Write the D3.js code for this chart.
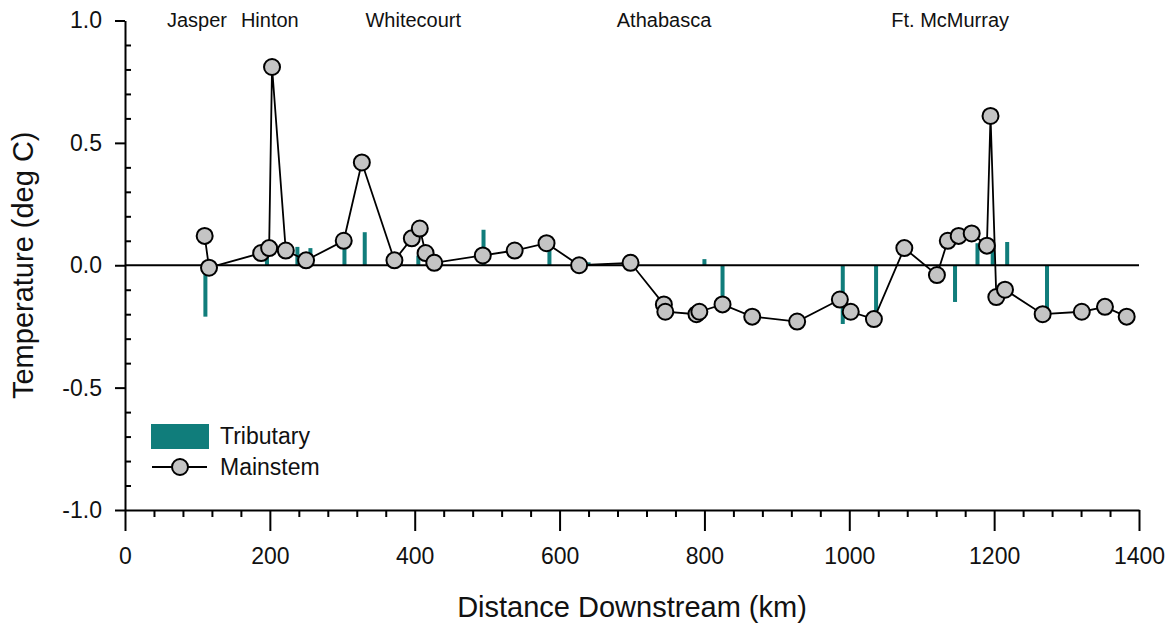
<!DOCTYPE html>
<html>
<head>
<meta charset="utf-8">
<script src="https://cdn.jsdelivr.net/npm/d3@7"></script>
<style>
  html, body { margin: 0; padding: 0; background: #fff; }
  svg { display: block; font-family: "Liberation Sans", Arial, sans-serif; }
</style>
</head>
<body>
<svg id="chart" width="1172" height="627"></svg>
<script>
// Mainstem temperature change along the river (km downstream, deg C)
const mainKm   = [110, 116, 188, 199, 203, 222, 250, 302, 327, 372, 396, 407, 415, 427,
                  494, 538, 582, 627, 698, 744, 746, 789, 793, 825, 866, 928, 987, 1002,
                  1034, 1076, 1121, 1136, 1151, 1169, 1190, 1195, 1203, 1215, 1267, 1321,
                  1353, 1383];
const mainTemp = [0.12, -0.01, 0.05, 0.07, 0.81, 0.06, 0.02, 0.10, 0.42, 0.02, 0.11, 0.15, 0.05, 0.01,
                  0.04, 0.06, 0.09, 0.00, 0.01, -0.16, -0.19, -0.20, -0.19, -0.16, -0.21, -0.23, -0.14, -0.19,
                  -0.22, 0.07, -0.04, 0.10, 0.12, 0.13, 0.08, 0.61, -0.13, -0.10, -0.20, -0.19,
                  -0.17, -0.21];

// Tributary inflow temperature effect (km downstream, deg C)
const tribKm   = [111, 196, 238, 256, 303, 331, 405, 495, 586, 640, 800, 825, 991, 1037,
                  1146, 1177, 1198, 1218, 1273];
const tribTemp = [-0.21, 0.05, 0.075, 0.07, 0.07, 0.135, 0.04, 0.145, 0.07, 0.012, 0.025, -0.16, -0.24, -0.22,
                  -0.15, 0.09, 0.06, 0.095, -0.20];

// Towns along the river, placed at their distance downstream
const townNames = ["Jasper", "Hinton", "Whitecourt", "Athabasca", "Ft. McMurray"];
const townKm    = [58, 160, 332, 679, 1058];

// Axis ticks
const xMajorTicks = [0, 200, 400, 600, 800, 1000, 1200, 1400];
const xMinorTicks = d3.range(0, 1401, 40).filter(v => v % 200 !== 0);
const yMajorTicks = [-1.0, -0.5, 0.0, 0.5, 1.0];
const yTickLabels = ["-1.0", "-0.5", "0.0", "0.5", "1.0"];
const yMinorTicks = d3.range(-10, 11).filter(v => v % 5 !== 0).map(v => v / 10);

const legendLabels = ["Tributary", "Mainstem"];

const TEAL = "#107d7b";
const MARKER_FILL = "#c4c4c4";

const svg = d3.select("#chart");

const x = d3.scaleLinear().domain([0, 1400]).range([125, 1139]);
const y = d3.scaleLinear().domain([-1, 1]).range([510, 20.5]);

// --- axes -----------------------------------------------------------------
svg.append("g")
  .attr("transform", `translate(0,${y(-1)})`)
  .call(d3.axisBottom(x).tickValues(xMajorTicks).tickSize(21).tickSizeOuter(0).tickPadding(17)
        .tickFormat(d3.format("d")));
svg.append("g")
  .attr("transform", `translate(0,${y(-1)})`)
  .call(d3.axisBottom(x).tickValues(xMinorTicks).tickSize(7).tickSizeOuter(0).tickFormat(""))
  .call(g => g.select(".domain").remove());

svg.append("g")
  .attr("transform", `translate(${x(0)},0)`)
  .call(d3.axisLeft(y).tickValues(yMajorTicks).tickSize(10).tickSizeOuter(0).tickPadding(13)
        .tickFormat((d, i) => yTickLabels[i]));
svg.append("g")
  .attr("transform", `translate(${x(0)},0)`)
  .call(d3.axisRight(y).tickValues(yMinorTicks).tickSize(6).tickSizeOuter(0).tickFormat(""))
  .call(g => g.select(".domain").remove());

svg.selectAll(".domain").attr("stroke", "#000").attr("stroke-width", 2);
svg.selectAll(".tick line").attr("stroke", "#000").attr("stroke-width", 2);
svg.selectAll(".tick text")
  .attr("fill", "#111")
  .style("font-size", "23px")
  .style("font-family", "'Liberation Sans', Arial, sans-serif");

// Axis titles
svg.append("text")
  .attr("x", (x(0) + x(1400)) / 2)
  .attr("y", 617)
  .attr("text-anchor", "middle")
  .style("font-size", "29px")
  .attr("fill", "#111")
  .text("Distance Downstream (km)");

svg.append("text")
  .attr("transform", `translate(33,${y(0)}) rotate(-90)`)
  .attr("text-anchor", "middle")
  .style("font-size", "29px")
  .attr("fill", "#111")
  .text("Temperature (deg C)");

// Town labels across the top
svg.append("g").selectAll("text")
  .data(townNames)
  .join("text")
  .attr("x", (d, i) => x(townKm[i]))
  .attr("y", 27)
  .style("font-size", "20px")
  .attr("fill", "#111")
  .text(d => d);

// --- tributary bars ---------------------------------------------------------
const barW = 4;
svg.append("g").selectAll("rect")
  .data(tribKm.map((k, i) => ({ k, t: tribTemp[i] })))
  .join("rect")
  .attr("x", d => x(d.k) - barW / 2)
  .attr("y", d => Math.min(y(d.t), y(0)))
  .attr("width", barW)
  .attr("height", d => Math.abs(y(d.t) - y(0)))
  .attr("fill", TEAL);

// Zero reference line
svg.append("line")
  .attr("x1", x(0)).attr("x2", x(1400))
  .attr("y1", y(0)).attr("y2", y(0))
  .attr("stroke", "#000").attr("stroke-width", 2);

// --- mainstem line and markers --------------------------------------------
const mainData = mainKm.map((k, i) => ({ k, t: mainTemp[i] }));
svg.append("path")
  .datum(mainData)
  .attr("fill", "none")
  .attr("stroke", "#000")
  .attr("stroke-width", 1.8)
  .attr("stroke-linejoin", "miter")
  .attr("d", d3.line().x(d => x(d.k)).y(d => y(d.t)));

svg.append("g").selectAll("circle")
  .data(mainData)
  .join("circle")
  .attr("cx", d => x(d.k))
  .attr("cy", d => y(d.t))
  .attr("r", 8)
  .attr("fill", MARKER_FILL)
  .attr("stroke", "#000")
  .attr("stroke-width", 2);

// --- legend -----------------------------------------------------------------
const legend = svg.append("g");
legend.append("rect")
  .attr("x", 151).attr("y", 424)
  .attr("width", 58).attr("height", 25)
  .attr("fill", TEAL);
legend.append("line")
  .attr("x1", 152).attr("x2", 207)
  .attr("y1", 467).attr("y2", 467)
  .attr("stroke", "#000").attr("stroke-width", 2);
legend.append("circle")
  .attr("cx", 180).attr("cy", 467).attr("r", 8)
  .attr("fill", MARKER_FILL).attr("stroke", "#000").attr("stroke-width", 2);
legend.selectAll("text.leg")
  .data(legendLabels)
  .join("text")
  .attr("class", "leg")
  .attr("x", 220)
  .attr("y", (d, i) => [444, 475][i])
  .style("font-size", "23px")
  .attr("fill", "#111")
  .text(d => d);
</script>
</body>
</html>
